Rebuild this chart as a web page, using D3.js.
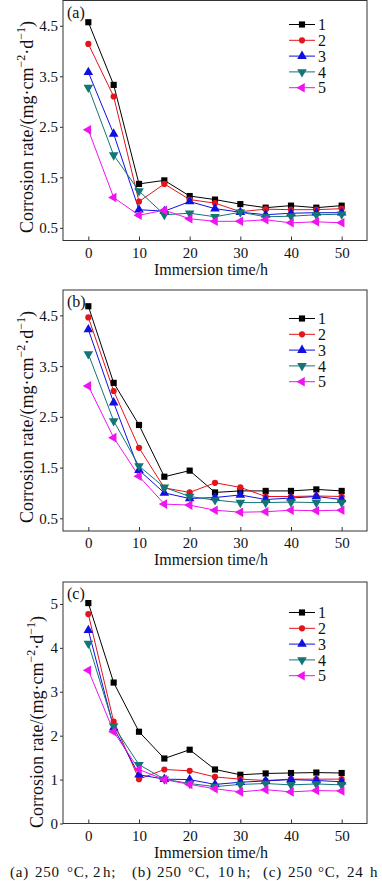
<!DOCTYPE html>
<html><head><meta charset="utf-8">
<script src="https://cdn.jsdelivr.net/npm/d3@7"></script>
<style>body{margin:0;background:#fff}svg{display:block}</style>
</head><body>
<svg id="chart" width="382" height="881"></svg>
<script>
// ---------- data ----------
const times = [0, 5, 10, 15, 20, 25, 30, 35, 40, 45, 50];
const seriesNames = ["1", "2", "3", "4", "5"];
const xTicks = [0, 10, 20, 30, 40, 50];
const yTicksAB = [0.5, 1.5, 2.5, 3.5, 4.5];
const yTicksC = [0, 1, 2, 3, 4, 5];
const panelLabels = ["(a)", "(b)", "(c)"];
const captionTokens = ["(a)", "250", "°C,", "2", "h;", "(b)", "250", "°C,", "10", "h;", "(c)", "250", "°C,", "24", "h"];

// (a) 250 °C, 2 h
const a1 = [4.57, 3.33, 1.37, 1.44, 1.13, 1.06, 0.97, 0.90, 0.94, 0.90, 0.94];
const a2 = [4.14, 3.10, 1.02, 1.37, 1.06, 0.99, 0.82, 0.87, 0.86, 0.86, 0.88];
const a3 = [3.58, 2.36, 0.86, 0.83, 1.02, 0.88, 0.81, 0.76, 0.79, 0.80, 0.80];
const a4 = [3.28, 1.94, 1.23, 0.76, 0.79, 0.72, 0.81, 0.72, 0.73, 0.76, 0.77];
const a5 = [2.44, 1.10, 0.75, 0.85, 0.68, 0.63, 0.63, 0.66, 0.60, 0.62, 0.60];
// (b) 250 °C, 10 h
const b1 = [4.68, 3.17, 2.34, 1.32, 1.44, 1.01, 1.04, 1.04, 1.04, 1.07, 1.04];
const b2 = [4.46, 3.01, 1.89, 1.10, 1.01, 1.20, 1.11, 0.93, 0.93, 0.94, 0.93];
const b3 = [4.22, 2.78, 1.45, 1.00, 0.89, 0.91, 0.96, 0.87, 0.90, 0.93, 0.87];
const b4 = [3.74, 2.42, 1.53, 1.11, 0.93, 0.86, 0.81, 0.81, 0.82, 0.81, 0.81];
const b5 = [3.11, 2.09, 1.33, 0.78, 0.76, 0.66, 0.62, 0.63, 0.66, 0.65, 0.66];
// (c) 250 °C, 24 h
const c1 = [5.02, 3.21, 2.09, 1.48, 1.68, 1.23, 1.11, 1.14, 1.15, 1.16, 1.15];
const c2 = [4.77, 2.32, 1.01, 1.23, 1.20, 1.06, 1.01, 0.98, 1.01, 1.01, 1.01];
const c3 = [4.40, 2.18, 1.11, 1.01, 1.00, 0.89, 0.94, 0.97, 1.00, 0.98, 0.95];
const c4 = [4.10, 2.22, 1.34, 1.01, 0.91, 0.84, 0.89, 0.91, 0.88, 0.90, 0.88];
const c5 = [3.49, 2.09, 1.23, 1.00, 0.89, 0.79, 0.72, 0.77, 0.72, 0.75, 0.74];

// ---------- styling / layout ----------
const colors = ["#000000", "#e3141c", "#1010e0", "#137575", "#ee14ee"];
const symbols = [
  {type: d3.symbolSquare, size: 38, rot: 0},
  {type: d3.symbolCircle, size: 30, rot: 0},
  {type: d3.symbolTriangle, size: 40, rot: 0},
  {type: d3.symbolTriangle, size: 40, rot: 180},
  {type: d3.symbolTriangle, size: 40, rot: -90}
];
const panels = [
  {data: [a1, a2, a3, a4, a5], top: 0.5, bottom: 240.5, yDomain: [0.25, 5.0], yTicks: yTicksAB, fmt: d3.format(".1f"), ylabX: 27, ylabY: 127, legTop: 24.5},
  {data: [b1, b2, b3, b4, b5], top: 290, bottom: 531, yDomain: [0.25, 5.0], yTicks: yTicksAB, fmt: d3.format(".1f"), ylabX: 27, ylabY: 417, legTop: 318.5},
  {data: [c1, c2, c3, c4, c5], top: 582, bottom: 823.5, yDomain: [0, 5.5], yTicks: yTicksC, fmt: d3.format("d"), ylabX: 37, ylabY: 722, legTop: 612.5}
];
const captionX = [10, 35, 67, 93, 103, 132, 157, 188, 218, 238, 263, 288, 318, 347, 370];
const left = 63, right = 367;
const font = "'Liberation Serif','Times New Roman',serif";

const svg = d3.select("#chart");
svg.append("rect").attr("width", 382).attr("height", 881).attr("fill", "#fff");

const x = d3.scaleLinear().domain([-5, 55]).range([left, right]);

panels.forEach((p, pi) => {
  const y = d3.scaleLinear().domain(p.yDomain).range([p.bottom, p.top]);
  const g = svg.append("g");

  // frame
  g.append("rect").attr("x", left).attr("y", p.top)
    .attr("width", right - left).attr("height", p.bottom - p.top)
    .attr("fill", "none").attr("stroke", "#333").attr("stroke-width", 1);

  // x axis (ticks inward)
  const xa = g.append("g").attr("transform", `translate(0,${p.bottom})`)
    .call(d3.axisBottom(x).tickValues(xTicks).tickSizeInner(-4).tickSizeOuter(0).tickPadding(8));
  xa.select(".domain").remove();
  xa.selectAll("line").attr("stroke", "#333");
  xa.selectAll("text").attr("font-family", font).attr("font-size", 15).attr("fill", "#111")
    .attr("dy", null).attr("y", 17);

  // y axis (ticks outward)
  const ya = g.append("g").attr("transform", `translate(${left},0)`)
    .call(d3.axisLeft(y).tickValues(p.yTicks).tickFormat(p.fmt).tickSizeInner(3).tickSizeOuter(0).tickPadding(2));
  ya.select(".domain").remove();
  ya.selectAll("line").attr("stroke", "#333");
  ya.selectAll("text").attr("font-family", font).attr("font-size", 15).attr("fill", "#111")
    .attr("dy", "0.33em");

  // x label
  g.append("text").attr("x", 211).attr("y", p.bottom + 34)
    .attr("text-anchor", "middle").attr("font-family", font).attr("font-size", 16).attr("fill", "#111")
    .text("Immersion time/h");

  // y label
  const yl = g.append("text")
    .attr("transform", `translate(${p.ylabX},${p.ylabY}) rotate(-90)`)
    .attr("text-anchor", "middle").attr("dominant-baseline", "central")
    .attr("font-family", font).attr("font-size", 18).attr("fill", "#111");
  yl.append("tspan").text("Corrosion rate/(mg·cm");
  yl.append("tspan").attr("font-size", 12).attr("dy", -6).text("−2");
  yl.append("tspan").attr("dy", 6).text("·d");
  yl.append("tspan").attr("font-size", 12).attr("dy", -6).text("−1");
  yl.append("tspan").attr("dy", 6).text(")");

  // panel label
  g.append("text").attr("x", 67).attr("y", p.top + 17)
    .attr("font-family", font).attr("font-size", 16).attr("fill", "#111").text(panelLabels[pi]);

  // series
  const line = d3.line().x((d, i) => x(times[i])).y(d => y(d));
  p.data.forEach((s, si) => {
    g.append("path").datum(s).attr("d", line)
      .attr("fill", "none").attr("stroke", colors[si]).attr("stroke-width", 1);
  });
  p.data.forEach((s, si) => {
    const sym = symbols[si];
    g.selectAll(null).data(s).enter().append("path")
      .attr("d", d3.symbol().type(sym.type).size(sym.size))
      .attr("transform", (d, i) => `translate(${x(times[i])},${y(d)}) rotate(${sym.rot})`)
      .attr("fill", colors[si]);
  });

  // legend
  seriesNames.forEach((name, si) => {
    const ly = p.legTop + si * 15.8;
    g.append("line").attr("x1", 289).attr("x2", 315).attr("y1", ly).attr("y2", ly)
      .attr("stroke", colors[si]).attr("stroke-width", 1);
    const sym = symbols[si];
    g.append("path").attr("d", d3.symbol().type(sym.type).size(sym.size))
      .attr("transform", `translate(302,${ly}) rotate(${sym.rot})`).attr("fill", colors[si]);
    g.append("text").attr("x", 318).attr("y", ly).attr("dy", "0.35em")
      .attr("font-family", font).attr("font-size", 16).attr("fill", "#111").text(name);
  });
});

// caption
const cap = svg.append("text").attr("y", 876.5)
  .attr("font-family", font).attr("font-size", 15).attr("letter-spacing", 0.8).attr("fill", "#111");
cap.selectAll("tspan").data(captionTokens).enter().append("tspan")
  .attr("x", (d, i) => captionX[i]).text(d => d);
</script>
</body></html>
